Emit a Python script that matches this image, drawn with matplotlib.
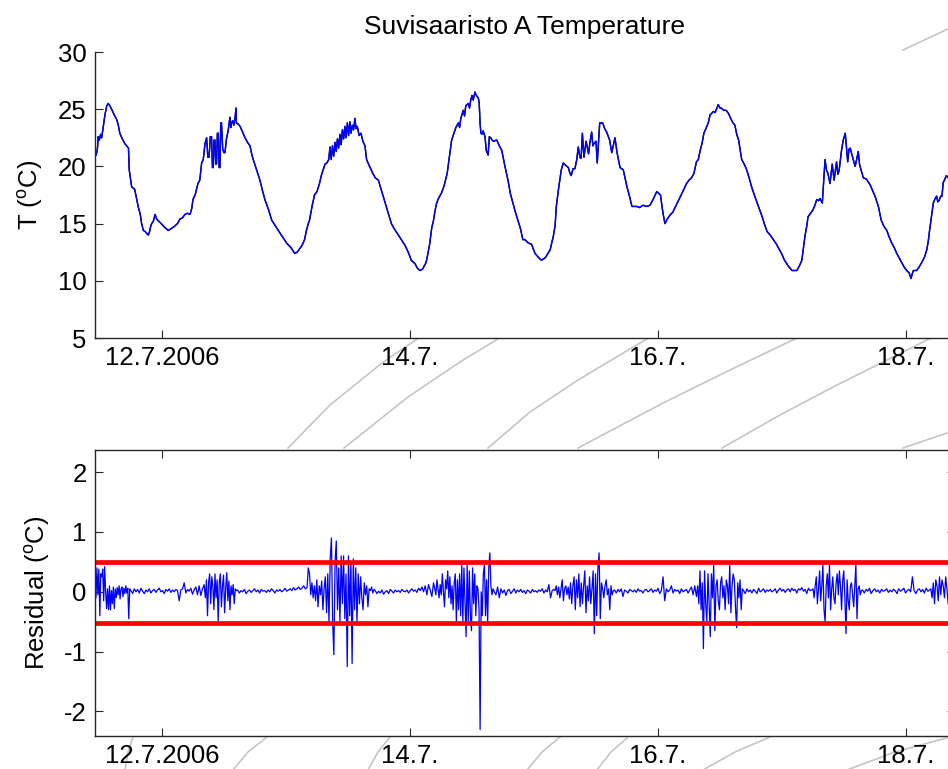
import numpy as np
import matplotlib
matplotlib.use("Agg")
import matplotlib.pyplot as plt
from matplotlib.lines import Line2D

plt.rcParams['font.family'] = ['Liberation Sans', 'DejaVu Sans']
plt.rcParams['mathtext.fontset'] = 'custom'
plt.rcParams['mathtext.rm'] = 'Liberation Sans'
plt.rcParams['mathtext.it'] = 'Liberation Sans:italic'
plt.rcParams['axes.unicode_minus'] = False

# time in days of July 2006, temperature in degC
t_day = [11.460, 11.470, 11.480, 11.486, 11.495, 11.505, 11.514, 11.527, 11.540, 11.555,
         11.567, 11.580, 11.594, 11.615, 11.635, 11.648, 11.660, 11.680, 11.700, 11.715,
         11.730, 11.736, 11.756, 11.780, 11.795, 11.810, 11.825, 11.836, 11.850, 11.865,
         11.880, 11.890, 11.900, 11.910, 11.917, 11.930, 11.945, 11.957, 11.984, 12.020,
         12.050, 12.080, 12.105, 12.125, 12.145, 12.165, 12.185, 12.205, 12.226, 12.240,
         12.250, 12.270, 12.290, 12.305, 12.320, 12.333, 12.347, 12.360, 12.370, 12.380,
         12.390, 12.400, 12.407, 12.414, 12.420, 12.427, 12.434, 12.440, 12.447, 12.454,
         12.461, 12.468, 12.474, 12.480, 12.490, 12.500, 12.508, 12.520, 12.535, 12.548,
         12.555, 12.562, 12.570, 12.580, 12.590, 12.597, 12.600, 12.615, 12.630, 12.650,
         12.670, 12.690, 12.710, 12.725, 12.736, 12.760, 12.790, 12.810, 12.830, 12.860,
         12.885, 12.920, 12.950, 12.975, 13.005, 13.040, 13.070, 13.090, 13.110, 13.130,
         13.150, 13.165, 13.180, 13.190, 13.210, 13.230, 13.250, 13.270, 13.285, 13.300,
         13.315, 13.330, 13.345, 13.355, 13.365, 13.375, 13.385, 13.395, 13.405, 13.415,
         13.425, 13.435, 13.445, 13.455, 13.465, 13.475, 13.485, 13.495, 13.505, 13.515,
         13.525, 13.535, 13.545, 13.556, 13.565, 13.575, 13.590, 13.605, 13.620, 13.637,
         13.650, 13.670, 13.700, 13.720, 13.745, 13.770, 13.800, 13.825, 13.850, 13.870,
         13.900, 13.930, 13.960, 13.990, 14.010, 14.040, 14.060, 14.080, 14.100, 14.130,
         14.145, 14.160, 14.175, 14.190, 14.200, 14.215, 14.230, 14.255, 14.275, 14.300,
         14.315, 14.336, 14.355, 14.370, 14.390, 14.400, 14.410, 14.430, 14.440, 14.450,
         14.470, 14.480, 14.490, 14.500, 14.510, 14.524, 14.535, 14.550, 14.558, 14.565,
         14.572, 14.580, 14.590, 14.605, 14.615, 14.630, 14.640, 14.650, 14.670, 14.700,
         14.720, 14.740, 14.766, 14.790, 14.810, 14.830, 14.850, 14.870, 14.890, 14.910,
         14.927, 14.954, 14.980, 15.008, 15.040, 15.060, 15.090, 15.130, 15.156, 15.170,
         15.180, 15.200, 15.220, 15.236, 15.255, 15.277, 15.290, 15.300, 15.315, 15.330,
         15.345, 15.357, 15.370, 15.380, 15.390, 15.403, 15.420, 15.440, 15.450, 15.465,
         15.475, 15.484, 15.500, 15.510, 15.530, 15.554, 15.570, 15.586, 15.600, 15.610,
         15.627, 15.653, 15.670, 15.694, 15.720, 15.750, 15.770, 15.790, 15.830, 15.850,
         15.880, 15.910, 15.935, 15.960, 15.990, 16.020, 16.035, 16.043, 16.056, 16.075,
         16.097, 16.120, 16.137, 16.160, 16.180, 16.204, 16.230, 16.250, 16.270, 16.290,
         16.310, 16.325, 16.340, 16.355, 16.370, 16.390, 16.405, 16.420, 16.430, 16.446,
         16.460, 16.475, 16.486, 16.500, 16.510, 16.530, 16.550, 16.570, 16.590, 16.605,
         16.620, 16.635, 16.650, 16.675, 16.700, 16.715, 16.735, 16.755, 16.780, 16.800,
         16.820, 16.840, 16.860, 16.880, 16.905, 16.930, 16.955, 16.980, 17.000, 17.020,
         17.050, 17.080, 17.100, 17.120, 17.140, 17.160, 17.172, 17.185, 17.200, 17.210,
         17.230, 17.250, 17.265, 17.280, 17.295, 17.306, 17.325, 17.347, 17.358, 17.370,
         17.387, 17.405, 17.420, 17.440, 17.450, 17.460, 17.480, 17.494, 17.510, 17.520,
         17.530, 17.540, 17.550, 17.567, 17.590, 17.615, 17.625, 17.637, 17.656, 17.680,
         17.710, 17.730, 17.750, 17.777, 17.800, 17.820, 17.845, 17.865, 17.885, 17.905,
         17.925, 17.945, 17.965, 17.985, 18.005, 18.025, 18.040, 18.050, 18.060, 18.075,
         18.086, 18.105, 18.127, 18.150, 18.167, 18.180, 18.190, 18.205, 18.220, 18.235,
         18.247, 18.256, 18.266, 18.280, 18.290, 18.300, 18.310, 18.325, 18.340]
temp = [21.3, 21.0, 21.6, 22.6, 22.3, 22.8, 22.5, 23.5, 24.5, 25.3,
        25.5, 25.3, 25.0, 24.5, 24.1, 23.6, 22.9, 22.4, 22.0, 21.8,
        21.6, 19.7, 18.2, 18.0, 17.2, 16.4, 15.8, 15.0, 14.4, 14.3,
        14.1, 14.0, 14.3, 14.8, 15.0, 15.2, 15.8, 15.4, 15.1, 14.7,
        14.4, 14.6, 14.8, 15.0, 15.4, 15.5, 15.8, 15.9, 15.8, 16.3,
        17.1, 17.6, 18.5, 18.8, 20.3, 20.6, 22.0, 22.5, 20.8, 20.8,
        22.6, 22.6, 19.9, 19.9, 22.3, 22.3, 20.2, 20.2, 22.9, 22.9,
        19.9, 19.9, 23.8, 23.8, 21.5, 21.2, 21.2, 22.4, 23.2, 24.3,
        23.4, 23.8, 24.0, 23.6, 24.3, 25.1, 23.8, 23.7, 23.5, 23.0,
        22.5, 22.1, 21.8, 21.0, 20.6, 19.8, 18.8, 17.9, 17.1, 16.2,
        15.3, 14.7, 14.2, 13.8, 13.3, 12.9, 12.4, 12.5, 12.8, 13.1,
        13.6, 14.4, 15.0, 15.3, 16.5, 17.5, 17.8, 18.5, 19.2, 19.7,
        20.2, 20.3, 20.6, 21.7, 20.6, 21.8, 20.9, 22.1, 21.3, 22.4,
        21.6, 22.8, 21.9, 23.2, 22.4, 23.5, 22.5, 23.8, 22.7, 23.9,
        22.9, 23.6, 23.2, 24.2, 23.3, 23.5, 22.7, 22.9, 22.2, 21.8,
        20.6, 20.1, 19.4, 19.0, 18.8, 17.9, 16.8, 15.9, 15.0, 14.6,
        14.1, 13.6, 13.1, 12.4, 11.8, 11.5, 11.1, 10.9, 11.0, 11.6,
        12.4, 13.3, 14.6, 15.3, 16.0, 16.8, 17.2, 17.7, 18.3, 19.4,
        20.6, 22.3, 22.9, 23.4, 23.8, 23.4, 24.2, 24.9, 24.4, 25.3,
        25.5, 25.1, 25.8, 26.2, 25.8, 26.5, 26.2, 26.0, 25.6, 23.8,
        22.9, 22.8, 23.1, 22.6, 21.4, 21.0, 22.6, 22.5, 22.2, 22.3,
        21.8, 21.4, 20.0, 18.8, 17.6, 16.8, 16.0, 15.3, 14.6, 13.6,
        13.6, 13.3, 13.2, 12.4, 12.0, 11.8, 12.0, 12.7, 13.9, 14.8,
        16.5, 18.2, 19.7, 20.3, 20.1, 19.9, 19.4, 19.2, 19.8, 19.8,
        20.6, 21.7, 20.8, 20.7, 22.9, 20.8, 22.2, 21.1, 22.0, 23.0,
        21.8, 22.0, 22.2, 20.3, 23.8, 23.8, 23.3, 23.0, 22.6, 22.3,
        21.2, 22.5, 21.2, 19.9, 19.7, 18.2, 17.4, 16.5, 16.5, 16.4,
        16.6, 16.5, 16.6, 17.1, 17.8, 17.5, 16.3, 15.75, 15.0, 15.4,
        15.75, 16.0, 16.4, 16.9, 17.35, 17.9, 18.5, 18.8, 19.0, 19.4,
        20.4, 20.6, 21.4, 22.0, 22.9, 23.4, 23.8, 24.5, 24.6, 24.8,
        24.7, 25.1, 25.4, 25.1, 25.1, 24.9, 24.9, 24.6, 24.1, 23.8,
        23.6, 22.8, 22.3, 20.6, 20.1, 19.7, 19.0, 18.2, 17.4, 16.8,
        16.2, 15.6, 14.9, 14.3, 14.0, 13.6, 13.2, 12.7, 12.3, 11.8,
        11.3, 10.9, 10.9, 10.9, 11.3, 11.8, 12.8, 13.9, 14.8, 15.6,
        15.9, 16.2, 16.6, 17.1, 17.0, 17.2, 16.8, 20.6, 19.7, 19.4,
        18.5, 20.2, 18.8, 20.4, 19.3, 19.6, 21.4, 22.3, 22.9, 21.7,
        20.4, 21.5, 21.6, 20.9, 20.0, 21.3, 20.2, 19.7, 19.0, 18.9,
        18.4, 17.9, 17.4, 16.5, 15.3, 14.8, 14.4, 13.8, 13.3, 12.9,
        12.4, 12.0, 11.6, 11.2, 10.9, 10.7, 10.2, 10.6, 10.9, 10.9,
        10.9, 11.2, 11.6, 12.1, 12.7, 13.5, 14.4, 15.6, 16.8, 17.2,
        17.4, 16.9, 17.0, 17.4, 17.4, 18.6, 18.8, 19.2, 19.0]

# residual (degC), one list per stretch of the record, with its start/end day
res_a = [0.10, -0.10, 0.40, -0.05, 0.38, -0.40, 0.30, 0.25, 0.38, -0.15, 0.42, 0.00, -0.28,
         0.05, -0.30, 0.10, -0.30, 0.02, -0.20, 0.08, -0.28, 0.05, -0.10, 0.07, -0.05, 0.10,
         -0.12, 0.05, 0.08, -0.08, 0.06, -0.03, 0.10, -0.02, 0.06, -0.45, 0.05]
res_b = [0.02, -0.03, 0.05, 0.00, 0.04, -0.02, 0.06, 0.01, -0.03, 0.03, 0.00, 0.05, -0.02,
         0.02, 0.04, -0.01, 0.03, 0.06, 0.00, 0.02, -0.03, 0.04, 0.01, 0.05, -0.01, 0.03,
         0.00, 0.04, 0.02, -0.15, 0.03, 0.05, 0.15, -0.02, 0.04, 0.01, 0.06, -0.04, 0.03,
         0.08, -0.05, 0.10, -0.06, 0.05, 0.12]
res_c = [-0.10, 0.20, -0.40, 0.15, 0.30, -0.20, 0.25, 0.10, -0.30, 0.30, -0.10, 0.20, -0.50,
         0.15, 0.30, -0.25, 0.10, 0.28, -0.35, 0.05, 0.32, -0.15, 0.18, -0.30, 0.10, -0.05,
         0.12, -0.20, 0.05, 0.02]
res_d = [0.03, -0.02, 0.02, 0.00, 0.04, -0.03, 0.01, 0.03, -0.01, 0.02, 0.05, 0.00, 0.03,
         -0.02, 0.04, 0.01, 0.02, -0.01, 0.03, 0.00, 0.05, 0.02, -0.02, 0.03, 0.01, 0.04,
         0.00, 0.02, 0.06, 0.01, 0.03, 0.05, 0.02, 0.07, 0.03, 0.05, 0.08, 0.04, 0.06, 0.10,
         0.05, 0.07]
res_e = [0.40, 0.30, -0.05, 0.15, -0.10, 0.10, -0.15, 0.20, -0.25, 0.10, -0.05, 0.18, -0.30,
         0.05, 0.25, -0.35, 0.30, -0.50, 0.55, 0.90, -0.50, -1.05, 0.50, 0.85, -0.30, 0.40,
         -0.50, 0.60, -0.20, 0.60, -0.45, 0.30, -1.25, 0.60, -0.40, 0.50, -1.20, 0.55, -0.30,
         0.40, -0.50, 0.30, -0.20, 0.25, -0.10, -0.30, 0.15, -0.05, 0.10, -0.25, 0.05, 0.02,
         0.08, -0.02, 0.04]
res_f = [0.02, -0.03, 0.01, -0.02, 0.03, -0.04, 0.00, 0.02, -0.03, 0.04, 0.01, -0.02, 0.03,
         0.00, 0.02, -0.01, 0.04, 0.01, 0.00, 0.03, -0.02, 0.02, 0.05, 0.01, 0.03, -0.01,
         0.06, 0.02, 0.08, 0.00, 0.10, -0.05, 0.12, 0.03, -0.08, 0.15]
res_g = [0.05, -0.05, 0.20, 0.05, -0.10, 0.12, -0.05, 0.30, 0.00, -0.25, 0.20, 0.05, 0.35,
         -0.10, 0.25, -0.20, 0.10, -0.30, 0.15, 0.30, -0.50, 0.20, -0.30, 0.30, -0.40, 0.45,
         -0.50, 0.40, -0.20, -0.75, 0.45, -0.50, 0.35, -0.40, -0.65, 0.40, -0.20, 0.30, -0.40,
         0.10, 0.05, -0.30, -2.30, 0.00, -0.40, 0.30, 0.45, -0.40, 0.20, -0.50, 0.40, 0.65,
         0.10, -0.05, 0.05]
res_h = [0.00, -0.05, 0.08, -0.10, 0.05, -0.02, 0.03, -0.06, 0.02, 0.04, -0.03, 0.01, 0.05,
         -0.02, 0.03, 0.00, 0.04, -0.01, 0.02, -0.03, 0.03, 0.01, -0.02, 0.04, 0.00, 0.02,
         -0.01, 0.03, 0.01, 0.05, -0.02, 0.03, 0.00, 0.12, -0.10, 0.02, 0.04]
res_i = [0.02, 0.10, -0.05, 0.08, -0.10, 0.05, 0.20, -0.15, 0.05, 0.10, -0.05, 0.08, -0.12,
         0.15, -0.20, 0.10, 0.25, -0.30, 0.20, -0.10, 0.30, -0.25, 0.15, -0.20, 0.10, 0.35,
         -0.35, 0.10, -0.15, 0.25, -0.20, 0.05, 0.35, -0.70, 0.30, -0.40, 0.40, 0.65, -0.45,
         0.15, 0.05, -0.10, 0.10, 0.20, -0.05, 0.05, -0.30, 0.10, -0.05, 0.02]
res_j = [0.03, -0.02, 0.04, 0.00, 0.05, -0.08, 0.03, 0.01, -0.02, 0.04, 0.02, 0.00, 0.03,
         -0.01, 0.05, 0.01, 0.02, -0.02, 0.03, 0.04, 0.00, 0.02, 0.05, -0.01, 0.03, 0.01,
         0.06, -0.03, 0.02, 0.25, -0.15, 0.05, 0.00, 0.03, 0.10, -0.02, 0.04, 0.01, 0.03,
         -0.03, 0.05, 0.00, 0.02, 0.04, -0.02, 0.03, 0.08, -0.05, 0.10, -0.08]
res_k = [0.10, -0.20, 0.35, -0.30, 0.15, -0.95, 0.35, -0.20, -0.50, 0.30, -0.20, -0.75, 0.30,
         -0.10, 0.45, -0.65, 0.10, 0.20, -0.15, -0.30, 0.15, 0.25, -0.10, 0.10, -0.30, 0.20,
         0.10, -0.20, 0.45, -0.35, 0.10, 0.30, 0.20, -0.25, -0.60, 0.15, -0.10, 0.20, -0.30,
         0.05]
res_l = [0.02, -0.03, 0.05, 0.00, 0.03, -0.02, 0.04, 0.01, -0.03, 0.06, 0.00, 0.02, 0.05,
         -0.01, 0.03, 0.01, 0.04, 0.00, 0.02, 0.05, -0.02, 0.03, 0.06, 0.01, 0.04, -0.01,
         0.03, 0.05, 0.00, 0.06, 0.02, 0.04, -0.02, 0.05, 0.03, 0.07, 0.01, 0.04, -0.03, 0.06,
         0.02, 0.03]
res_m = [0.05, -0.10, 0.10, 0.25, -0.20, 0.05, 0.35, -0.15, 0.10, 0.45, -0.30, -0.50, 0.10,
         0.30, -0.10, 0.45, -0.30, 0.05, 0.25, -0.10, -0.20, 0.15, 0.30, -0.05, 0.35, 0.10,
         -0.30, 0.20, 0.35, -0.10, -0.70, 0.20, -0.15, -0.30, 0.10, 0.15, -0.05, -0.25, 0.10,
         0.45, -0.45, 0.05, 0.10, -0.05, 0.02]
res_n = [0.03, -0.02, 0.04, 0.01, 0.06, -0.03, 0.02, 0.05, 0.00, 0.03, -0.02, 0.04, 0.01,
         0.02, 0.05, -0.01, 0.03, 0.00, 0.04, 0.02, -0.03, 0.05, 0.01, 0.03, 0.06, -0.02,
         0.02, 0.04, 0.00, 0.25, 0.02, -0.03, 0.03, 0.05, 0.00, 0.04, -0.02, 0.06, 0.01, 0.03]
res_o = [0.05, -0.10, 0.15, -0.20, 0.20, 0.10, -0.15, 0.25, -0.05, 0.20, 0.10, -0.10, 0.25,
         0.05, -0.20]
res_spans = [(11.46, 11.74), (11.75, 12.34), (12.35, 12.60), (12.61, 13.17), (13.18, 13.71),
             (13.72, 14.19), (14.20, 14.67), (14.68, 15.16), (15.17, 15.64), (15.65, 16.31),
             (16.32, 16.68), (16.69, 17.24), (17.25, 17.64), (17.65, 18.19), (18.20, 18.34)]
res_lists = [res_a, res_b, res_c, res_d, res_e, res_f, res_g, res_h, res_i, res_j,
             res_k, res_l, res_m, res_n, res_o]

limit_hi = 0.49
limit_lo = -0.52

res_t = np.concatenate([np.linspace(a, b, len(v)) for (a, b), v in zip(res_spans, res_lists)])
res_v = np.concatenate(res_lists)

tick_days = [12, 14, 16, 18]
tick_labels = ['12.7.2006', '14.7.', '16.7.', '18.7.']

W, H = 948, 769
fig = plt.figure(figsize=(W / 100, H / 100), dpi=100)

# faint background arcs (pixel coords of the picture)
arcs = [[(288, 448), (330, 405), (382, 363), (420, 337)],
        [(344, 448), (408, 397), (460, 362), (501, 337)],
        [(488, 448), (530, 412), (578, 380), (650, 337)],
        [(578, 448), (663, 403), (730, 370), (799, 337)],
        [(722, 448), (780, 415), (833, 387), (931, 338)],
        [(903, 448), (950, 432)],
        [(903, 50), (950, 28)],
        [(125, 770), (128, 752), (133, 737)],
        [(233, 770), (248, 752), (267, 737)],
        [(368, 770), (378, 752), (390, 737)],
        [(527, 770), (542, 752), (560, 737)],
        [(597, 770), (611, 752), (627, 738)],
        [(703, 770), (735, 752), (770, 737)],
        [(847, 770), (895, 752), (950, 737)]]
for arc in arcs:
    xs = [p[0] / W for p in arc]
    ys = [1 - p[1] / H for p in arc]
    fig.add_artist(Line2D(xs, ys, color='#c9c4c0', lw=1.2, zorder=-5))

left = 95 / W
width = 860 / W
ax1 = fig.add_axes([left, 1 - 338 / H, width, 286 / H])
ax2 = fig.add_axes([left, 1 - 736 / H, width, 286 / H])

ax1.plot(t_day, temp, color='black', lw=1.0)
ax1.plot(t_day, temp, color='#0000ff', lw=1.0)
ax1.set_ylim(5, 30)
ax1.set_yticks([5, 10, 15, 20, 25, 30])
ax1.set_title('Suvisaaristo A Temperature', fontsize=19, pad=13)
ax1.set_ylabel('T ($^{\\mathrm{o}}$C)', fontsize=18.5)
ax1.yaxis.set_label_coords(-0.058, 0.5)
ax1.spines['top'].set_visible(False)
ax1.spines['right'].set_visible(False)

ax2.plot(res_t, res_v, color='#0000ff', lw=0.9)
ax2.axhline(limit_hi, color='red', lw=3.4)
ax2.axhline(limit_lo, color='red', lw=3.4)
ax2.set_ylim(-2.41, 2.37)
ax2.set_yticks([-2, -1, 0, 1, 2])
ax2.set_ylabel('Residual ($^{\\mathrm{o}}$C)', fontsize=18.5)
ax2.yaxis.set_label_coords(-0.05, 0.5)
ax2.tick_params(top=True, right=True)

for ax in (ax1, ax2):
    ax.set_xlim(11.46, 18.395)
    ax.set_xticks(tick_days)
    ax.set_xticklabels(tick_labels)
    ax.tick_params(direction='in', length=6, width=0.8, labelsize=18.5, pad=6, color='#262626')
    for s in ax.spines.values():
        s.set_color('#262626')
        s.set_linewidth(1.0)

fig.savefig('out.png', dpi=100)
